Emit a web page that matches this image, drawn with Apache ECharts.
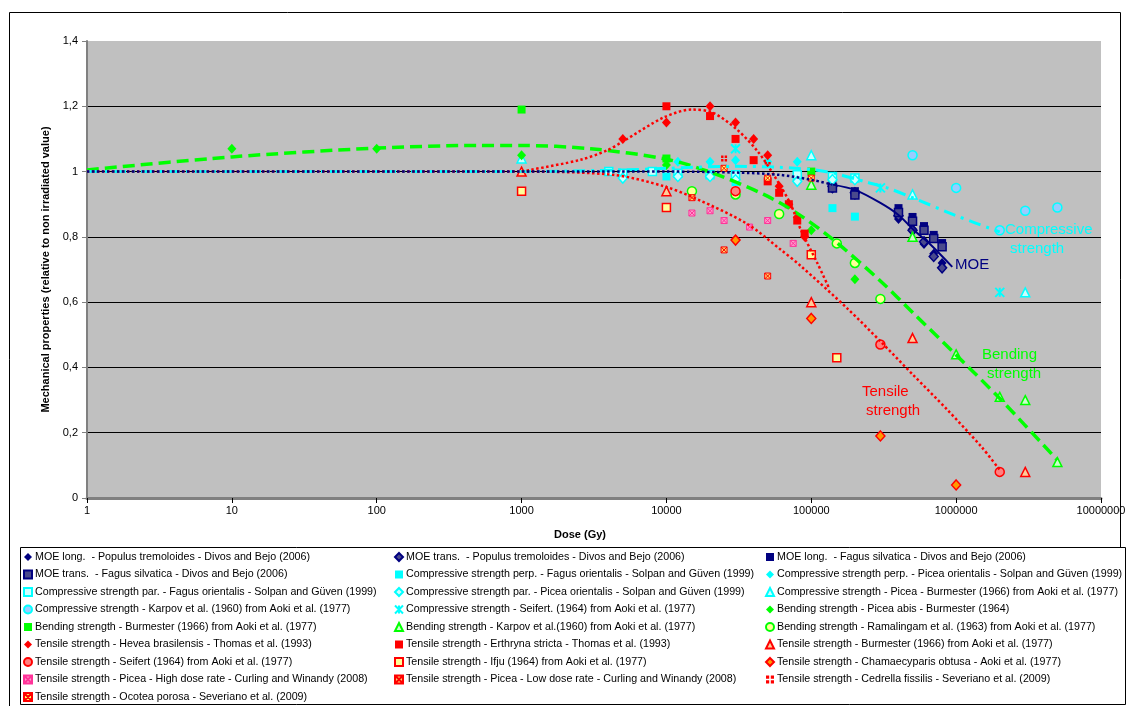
<!DOCTYPE html>
<html><head><meta charset="utf-8">
<script src="https://cdn.jsdelivr.net/npm/echarts@6/dist/echarts.min.js"></script>
<style>html,body{margin:0;padding:0;background:#fff}#chart{width:1129px;height:706px}</style>
</head><body><div id="chart"></div>
<script>
// Dose (Gy) vs. property relative to the non irradiated value: [dose, value]
const moeLongPopulus   = [[1.4e5,0.947],[2e5,0.928],[4e5,0.855],[5e5,0.824],[6e5,0.778],[7e5,0.748],[8e5,0.72]];
const moeTransPopulus  = [[1.4e5,0.955],[2e5,0.935],[4e5,0.865],[5e5,0.82],[6e5,0.785],[7e5,0.74],[8e5,0.705]];
const moeLongFagus     = [[1.4e5,0.958],[2e5,0.94],[4e5,0.888],[5e5,0.861],[6e5,0.833],[7e5,0.806],[8e5,0.781]];
const moeTransFagus    = [[1.4e5,0.95],[2e5,0.928],[4e5,0.875],[5e5,0.848],[6e5,0.82],[7e5,0.795],[8e5,0.77]];
const compPerpFagus    = [[1e4,0.985],[3e4,0.968],[8e4,0.98],[1.4e5,0.888],[2e5,0.862]];
const compPerpPicea    = [[1.2e4,1.03],[2e4,1.03],[3e4,1.035],[5e4,1.03],[8e4,1.03]];
const compParFagus     = [[4000,1.0],[5000,0.995],[8000,1.0],[1.2e4,0.995],[2e4,0.99],[3e4,0.99],[8e4,0.99],[1.4e5,0.985],[2e5,0.98]];
const compParPicea     = [[5000,0.98],[1.2e4,0.985],[2e4,0.985],[3e4,0.975],[8e4,0.97],[1.4e5,0.975],[2e5,0.975]];
const compBurmester    = [[1000,1.04],[1e5,1.05],[5e5,0.93],[3e6,0.63]];
const compKarpov       = [[5e5,1.05],[1e6,0.95],[2e6,0.82],[3e6,0.88],[5e6,0.89]];
const compSeifert      = [[3e4,1.07],[3e5,0.95],[2e6,0.63]];
const bendPiceaAbis    = [[10,1.07],[100,1.07],[1000,1.05],[1e4,1.02],[1e5,0.82],[2e5,0.67]];
const bendBurmester    = [[1000,1.19],[1e4,1.04],[1e5,1.0]];
const bendKarpov       = [[1e5,0.96],[5e5,0.80],[1e6,0.44],[2e6,0.31],[3e6,0.30],[5e6,0.11]];
const bendRamalingam   = [[1.5e4,0.94],[3e4,0.93],[6e4,0.87],[1.5e5,0.78],[2e5,0.72],[3e5,0.61]];
const tensHevea        = [[5000,1.10],[1e4,1.15],[2e4,1.20],[3e4,1.15],[4e4,1.10],[5e4,1.05],[6e4,0.955],[7e4,0.90],[8e4,0.86],[9e4,0.80]];
const tensErthryna     = [[1e4,1.20],[2e4,1.17],[3e4,1.10],[4e4,1.035],[5e4,0.97],[6e4,0.935],[7e4,0.90],[8e4,0.85],[9e4,0.81]];
const tensBurmester    = [[1000,1.0],[1e4,0.94],[1e5,0.60],[5e5,0.49],[3e6,0.08]];
const tensSeifert      = [[3e4,0.94],[3e5,0.47],[2e6,0.08]];
const tensIfju         = [[1000,0.94],[1e4,0.89],[1e5,0.745],[1.5e5,0.43]];
const tensChamaecyparis= [[3e4,0.79],[1e5,0.55],[3e5,0.19],[1e6,0.04]];
const tensPiceaHigh    = [[1.5e4,0.873],[2e4,0.88],[2.5e4,0.85],[3.75e4,0.83],[5e4,0.85],[7.5e4,0.78]];
const tensPiceaLow     = [[1.5e4,0.92],[2.5e4,0.76],[5e4,0.68]];
const tensCedrella     = [[2.5e4,1.04],[5e4,1.02]];
const tensOcotea       = [[2.5e4,1.01],[5e4,0.98],[1e5,0.98]];

// Trend curves drawn through the point clouds
const moeTrendDotted   = [[1,1.0],[1000,1.0],[1e4,1.0],[3e4,0.997],[6e4,0.99],[1e5,0.975],[1.4e5,0.96]];
const moeTrendSolid    = [[1.4e5,0.96],[2e5,0.944],[3e5,0.904],[4e5,0.867],[5.1e5,0.821],[6.7e5,0.775],[9.4e5,0.708]];
const compTrend        = [[1,1.0],[1000,1.0],[5000,1.005],[1e4,1.01],[3e4,1.016],[6e4,1.013],[1.1e5,1.004],[1.5e5,0.993],[2.3e5,0.97],[3.4e5,0.949],[5e5,0.92],[1e6,0.865],[2e6,0.815]];
const bendTrend        = [[1,1.005],[10,1.045],[100,1.072],[500,1.08],[1000,1.08],[3000,1.07],[1e4,1.038],[2.1e4,0.995],[4.7e4,0.93],[8e4,0.872],[1.43e5,0.79],[3e5,0.665],[5.1e5,0.565],[9.7e5,0.444],[1.95e6,0.31],[5e6,0.116]];
const tensTrendUpper   = [[1000,1.0],[1150,1.005],[2550,1.036],[3900,1.065],[5000,1.092],[9600,1.166],[1.5e4,1.19],[2.1e4,1.18],[3.1e4,1.127],[4.3e4,1.06],[5.5e4,0.99],[7.2e4,0.90],[8.5e4,0.82],[1.1e5,0.72],[1.32e5,0.645]];
const tensTrendLower   = [[1,1.0],[1000,1.0],[4300,0.99],[9600,0.955],[1.64e4,0.915],[3.6e4,0.84],[6.1e4,0.762],[8.5e4,0.71],[1.8e5,0.578],[3e5,0.48],[5.1e5,0.375],[8.7e5,0.27],[1.5e6,0.156],[2e6,0.086]];

const xTicks = [1,10,100,1000,10000,100000,1000000,10000000];

const NAVY='#000080', CYAN='#00FFFF', GREEN='#00FF00', RED='#FF0000';
const FONT = '"Liberation Sans", Arial, sans-serif';
const SQ_X = 'path://M0,0L10,0L10,10L0,10Z M0,0L10,10 M10,0L0,10';
const STAR = 'path://M0,0L10,10M10,0L0,10M5,0L5,10';
const DOTS = 'path://M0,0h4v4h-4z M6,0h4v4h-4z M0,6h4v4h-4z M6,6h4v4h-4z';

function pts(name, data, symbol, size, fill, stroke, bw) {
  return {
    name, type: 'scatter', data, symbol, symbolSize: size,
    itemStyle: { color: fill, borderColor: stroke || fill, borderWidth: bw || 0, opacity: 1 },
    emphasis: { disabled: true }
  };
}

const markerSeries = [
  pts('MOE long.  - Populus tremoloides - Divos and Bejo (2006)', moeLongPopulus, 'diamond', [9,10], NAVY),
  pts('MOE trans.  - Populus tremoloides - Divos and Bejo (2006)', moeTransPopulus, 'diamond', [9,10], '#4a4a8c', NAVY, 1.5),
  pts('MOE long.  - Fagus silvatica - Divos and Bejo (2006)', moeLongFagus, 'rect', [8,8], NAVY),
  pts('MOE trans.  - Fagus silvatica - Divos and Bejo (2006)', moeTransFagus, 'rect', [8,8], '#4a4a8c', NAVY, 1.5),
  pts('Compressive strength perp. - Fagus orientalis - Solpan and Güven (1999)', compPerpFagus, 'rect', [8,8], CYAN),
  pts('Compressive strength perp. - Picea orientalis - Solpan and Güven (1999)', compPerpPicea, 'diamond', [9,10], CYAN),
  pts('Compressive strength par. - Fagus orientalis - Solpan and Güven (1999)', compParFagus, 'rect', [8,8], '#CCFFFF', CYAN, 1.5),
  pts('Compressive strength par. - Picea orientalis - Solpan and Güven (1999)', compParPicea, 'diamond', [9,10], '#CCFFFF', CYAN, 1.5),
  pts('Compressive strength - Picea - Burmester (1966) from Aoki et al. (1977)', compBurmester, 'triangle', [9,9], '#CCFFFF', CYAN, 1.5),
  pts('Compressive strength - Karpov et al. (1960) from Aoki et al. (1977)', compKarpov, 'circle', [9,9], '#99CCFF', CYAN, 1.5),
  pts('Compressive strength - Seifert. (1964) from Aoki et al. (1977)', compSeifert, STAR, [9,9], 'rgba(0,0,0,0)', CYAN, 2),
  pts('Bending strength - Picea abis - Burmester (1964)', bendPiceaAbis, 'diamond', [9,10], GREEN),
  pts('Bending strength - Burmester (1966) from Aoki et al. (1977)', bendBurmester, 'rect', [8,8], GREEN),
  pts('Bending strength - Karpov et al.(1960) from Aoki et al. (1977)', bendKarpov, 'triangle', [9,9], '#CCFFCC', GREEN, 1.5),
  pts('Bending strength - Ramalingam et al. (1963) from Aoki et al. (1977)', bendRamalingam, 'circle', [9,9], '#FFFF99', GREEN, 1.5),
  pts('Tensile strength - Hevea brasilensis - Thomas et al. (1993)', tensHevea, 'diamond', [9,10], RED),
  pts('Tensile strength - Erthryna stricta - Thomas et al. (1993)', tensErthryna, 'rect', [8,8], RED),
  pts('Tensile strength - Burmester (1966) from Aoki et al. (1977)', tensBurmester, 'triangle', [9,9], '#FFCC99', RED, 1.5),
  pts('Tensile strength - Seifert (1964) from Aoki et al. (1977)', tensSeifert, 'circle', [9,9], '#FF8080', RED, 1.5),
  pts('Tensile strength - Ifju (1964) from Aoki et al. (1977)', tensIfju, 'rect', [8,8], '#FFFF99', RED, 1.5),
  pts('Tensile strength - Chamaecyparis obtusa - Aoki et al. (1977)', tensChamaecyparis, 'diamond', [9,10], '#FF9900', RED, 1.5),
  pts('Tensile strength - Picea - High dose rate - Curling and Winandy (2008)', tensPiceaHigh, SQ_X, [6,6], '#FF99CC', '#FF3399', 1),
  pts('Tensile strength - Picea - Low dose rate - Curling and Winandy (2008)', tensPiceaLow, SQ_X, [6,6], '#FFCC66', RED, 1),
  pts('Tensile strength - Cedrella fissilis - Severiano et al. (2009)', tensCedrella, DOTS, [6,6], RED),
  pts('Tensile strength - Ocotea porosa - Severiano et al. (2009)', tensOcotea, SQ_X, [6,6], '#FFFF66', RED, 1)
];

function trend(data, color, width, dash) {
  return {
    type: 'line', data, symbol: 'none', smooth: 0.3, silent: true,
    lineStyle: { color, width, type: dash, cap: 'butt' }, z: 3
  };
}
const trendSeries = [
  trend(bendTrend, GREEN, 3.5, [12,6]),
  trend(compTrend, CYAN, 3, [12,6,3,6]),
  trend(tensTrendUpper, RED, 2.5, [2.5,2.5]),
  trend(tensTrendLower, RED, 2.5, [2.5,2.5]),
  trend(moeTrendDotted, NAVY, 2.5, [2.5,2.5]),
  trend(moeTrendSolid, NAVY, 2, 'solid')
];

const names = markerSeries.map(s => s.name);
function legendCol(col, left) {
  return {
    orient: 'vertical', left, top: 550, itemWidth: 8, itemHeight: 8, itemGap: 3.5,
    selectedMode: false, padding: 0,
    data: names.filter((n, i) => i % 3 === col),
    textStyle: { fontFamily: FONT, fontSize: 10.7, color: '#000', lineHeight: 14, padding: [0,0,0,-2] }
  };
}

function txt(text, x, y, color, align) {
  return { type: 'text', x, y, silent: true,
    style: { text, fill: color, font: '15px ' + FONT, textAlign: align || 'left', textVerticalAlign: 'middle' } };
}

const chart = echarts.init(document.getElementById('chart'), null, { renderer: 'canvas' });
chart.setOption({
  animation: false,
  backgroundColor: '#fff',
  grid: { left: 87, right: 28, top: 41, bottom: 208, show: true, backgroundColor: '#C0C0C0', borderWidth: 0 },
  xAxis: {
    type: 'log', logBase: 10, min: xTicks[0], max: xTicks[xTicks.length - 1],
    axisLine: { lineStyle: { color: '#808080', width: 3 } },
    axisTick: { show: true, length: 5, lineStyle: { color: '#000', width: 1 } },
    axisLabel: { fontFamily: FONT, fontSize: 11, color: '#000', margin: 7, formatter: v => String(Math.round(v)) },
    splitLine: { show: false }, minorTick: { show: false }
  },
  yAxis: {
    type: 'value', min: 0, max: 1.4, interval: 0.2,
    name: 'Mechanical properties (relative to non irradiated value)', nameLocation: 'middle', nameGap: 33,
    nameTextStyle: { fontFamily: FONT, fontSize: 11, fontWeight: 'bold', color: '#000' },
    axisLine: { show: true, lineStyle: { color: '#808080', width: 2 } },
    axisTick: { show: true, length: 5, lineStyle: { color: '#808080', width: 1 } },
    axisLabel: { fontFamily: FONT, fontSize: 11, color: '#000', margin: 9,
      formatter: v => String(Math.round(v * 10) / 10).replace('.', ',') },
    splitLine: { show: true, showMaxLine: false, showMinLine: false, lineStyle: { color: '#000', width: 1 } }
  },
  legend: [legendCol(0, 23), legendCol(1, 394), legendCol(2, 765)],
  series: markerSeries.concat(trendSeries),
  graphic: [
    { type: 'polyline', silent: true, shape: { points: [[9.5, 706], [9.5, 12.5], [1120.5, 12.5], [1120.5, 547]] },
      style: { stroke: '#000', lineWidth: 1, fill: null } },
    { type: 'rect', silent: true, shape: { x: 20.5, y: 547.5, width: 1105, height: 157 },
      style: { stroke: '#000', lineWidth: 1, fill: '#fff' }, z: -1 },
    { type: 'text', x: 580, y: 535, silent: true,
      style: { text: 'Dose (Gy)', fill: '#000', font: 'bold 11px ' + FONT, textAlign: 'center', textVerticalAlign: 'middle' } },
    txt('MOE', 955, 265, NAVY),
    txt('Compressive', 1005, 230, CYAN),
    txt('strength', 1010, 249, CYAN),
    txt('Bending', 982, 355, GREEN),
    txt('strength', 987, 374, GREEN),
    txt('Tensile', 862, 392, RED),
    txt('strength', 866, 411, RED)
  ]
});
</script></body></html>
